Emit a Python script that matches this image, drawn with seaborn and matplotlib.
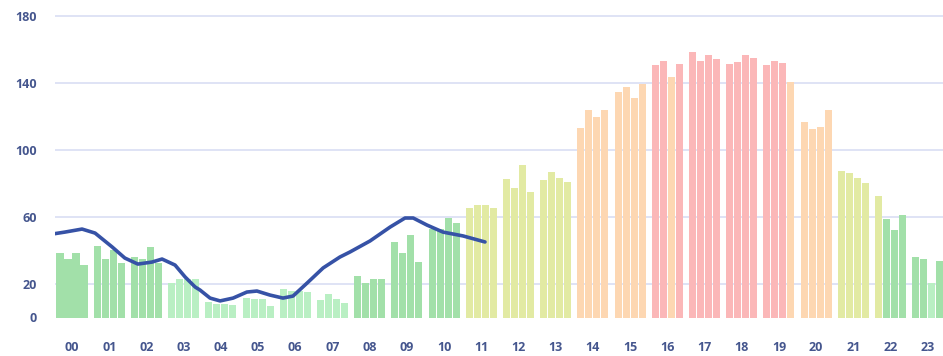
import numpy as np
import pandas as pd
import seaborn as sns
import matplotlib.pyplot as plt

# Data: 4 readings per hour
hour_labels = ["%02d" % h for h in range(24)]
values = [
    38.3, 34.7, 38.3, 31.3,   # 00
    42.7, 34.9, 40.3, 32.7,   # 01
    36.3, 34.7, 42.3, 32.3,   # 02
    20.6, 23.2, 23.2, 23.2,   # 03
    9.0, 8.0, 8.0, 7.2,       # 04
    11.5, 11.3, 11.0, 6.6,    # 05
    16.8, 15.8, 15.8, 15.4,   # 06
    10.4, 13.8, 11.0, 8.5,    # 07
    24.8, 20.4, 23.0, 23.0,   # 08
    45.3, 38.3, 49.3, 33.3,   # 09
    53.0, 53.0, 59.6, 56.2,   # 10
    65.2, 67.2, 67.2, 65.2,   # 11
    82.5, 77.1, 91.0, 75.1,   # 12
    82.1, 86.7, 83.5, 80.7,   # 13
    113.3, 123.9, 119.9, 123.9,  # 14
    134.8, 137.4, 130.9, 139.4,  # 15
    150.7, 153.3, 143.8, 151.2,  # 16
    158.7, 153.3, 156.7, 154.3,  # 17
    151.2, 152.7, 156.7, 154.7,  # 18
    150.7, 153.3, 151.8, 140.8,  # 19
    116.9, 112.4, 113.9, 123.9,  # 20
    87.6, 86.1, 83.5, 80.5,      # 21
    72.5, 58.6, 52.2, 61.2,      # 22
    36.3, 34.7, 20.4, 33.7,      # 23
]
# colour level of each bar: L light green, G green, Y yellow, O orange, R red
levels = list(
    "GGGG" "GGGG" "GGGG" "LLLL" "LLLL" "LLLL" "LLLL" "LLLL"
    "GGGG" "GGGG" "GGGG" "YYYY" "YYYY" "YYYY" "OOOO" "OOOO"
    "RROR" "RRRR" "RRRR" "RRRO" "OOOO" "YYYY" "YGGG" "GGLG"
)

# smooth trend line (hour, value)
line_hours = [-0.51, -0.19, 0.27, 0.62, 1.08, 1.42, 1.77, 2.15, 2.42, 2.77,
              3.04, 3.31, 3.44, 3.71, 3.98, 4.33, 4.70, 4.97, 5.32, 5.67,
              5.94, 6.32, 6.75, 7.20, 7.47, 8.01, 8.55, 8.95, 9.17, 9.54,
              9.97, 10.51, 11.10]
line_vals = [49.9, 51.0, 52.8, 50.4, 42.1, 35.5, 31.9, 33.1, 34.9, 31.3,
             24.2, 18.2, 16.4, 11.6, 9.9, 11.6, 15.2, 15.8, 13.4, 11.6,
             12.8, 20.6, 29.6, 36.1, 39.1, 45.7, 54.0, 59.4, 59.4, 55.2,
             51.0, 48.7, 45.1]

palette = {"L": "#b9efc3", "G": "#a2e0a9", "Y": "#e2eaa3",
           "O": "#fdd7b2", "R": "#fbb7b8"}

offsets = np.array([-0.3225, -0.1075, 0.1075, 0.3225])
df = pd.DataFrame({
    "pos": np.repeat(np.arange(24), 4) + np.tile(offsets, 24),
    "value": values,
    "level": levels,
})

sns.set_theme(style="white")
plt.rcParams['font.family'] = ['Open Sans', 'DejaVu Sans']

fig = plt.figure(figsize=(9.43, 3.56), dpi=100)
ax = fig.add_axes([55 / 943, 1 - 317.5 / 356, 1 - 55 / 943, 307.5 / 356])

sns.barplot(data=df, x="pos", y="value", hue="level", palette=palette,
            native_scale=True, dodge=False, width=0.88, errorbar=None,
            saturation=1, linewidth=0, legend=False, ax=ax, zorder=2)
sns.lineplot(x=line_hours, y=line_vals, color="#3652a6", linewidth=2.6,
             ax=ax, zorder=3, solid_capstyle="round", solid_joinstyle="round")

ax.set_xlim(-0.457, 23.41)
ax.set_ylim(0, 183.6)
ax.set_xticks(range(24))
ax.set_xticklabels(hour_labels)
ax.set_yticks([0, 20, 60, 100, 140, 180])
ax.set_xlabel("")
ax.set_ylabel("")
sns.despine(ax=ax, left=True, bottom=True)

ax.grid(axis="y", color="#dfe3f5", linewidth=1.4, zorder=0)
ax.set_axisbelow(True)
ax.yaxis.get_gridlines()[0].set_visible(False)

lab_color = "#45568e"
ax.tick_params(axis="x", length=0, pad=17, labelsize=9, labelcolor=lab_color)
ax.tick_params(axis="y", length=0, pad=13, labelsize=9, labelcolor=lab_color)
for t in ax.get_xticklabels() + ax.get_yticklabels():
    t.set_fontweight("bold")

fig.savefig("out.png", dpi=100)
